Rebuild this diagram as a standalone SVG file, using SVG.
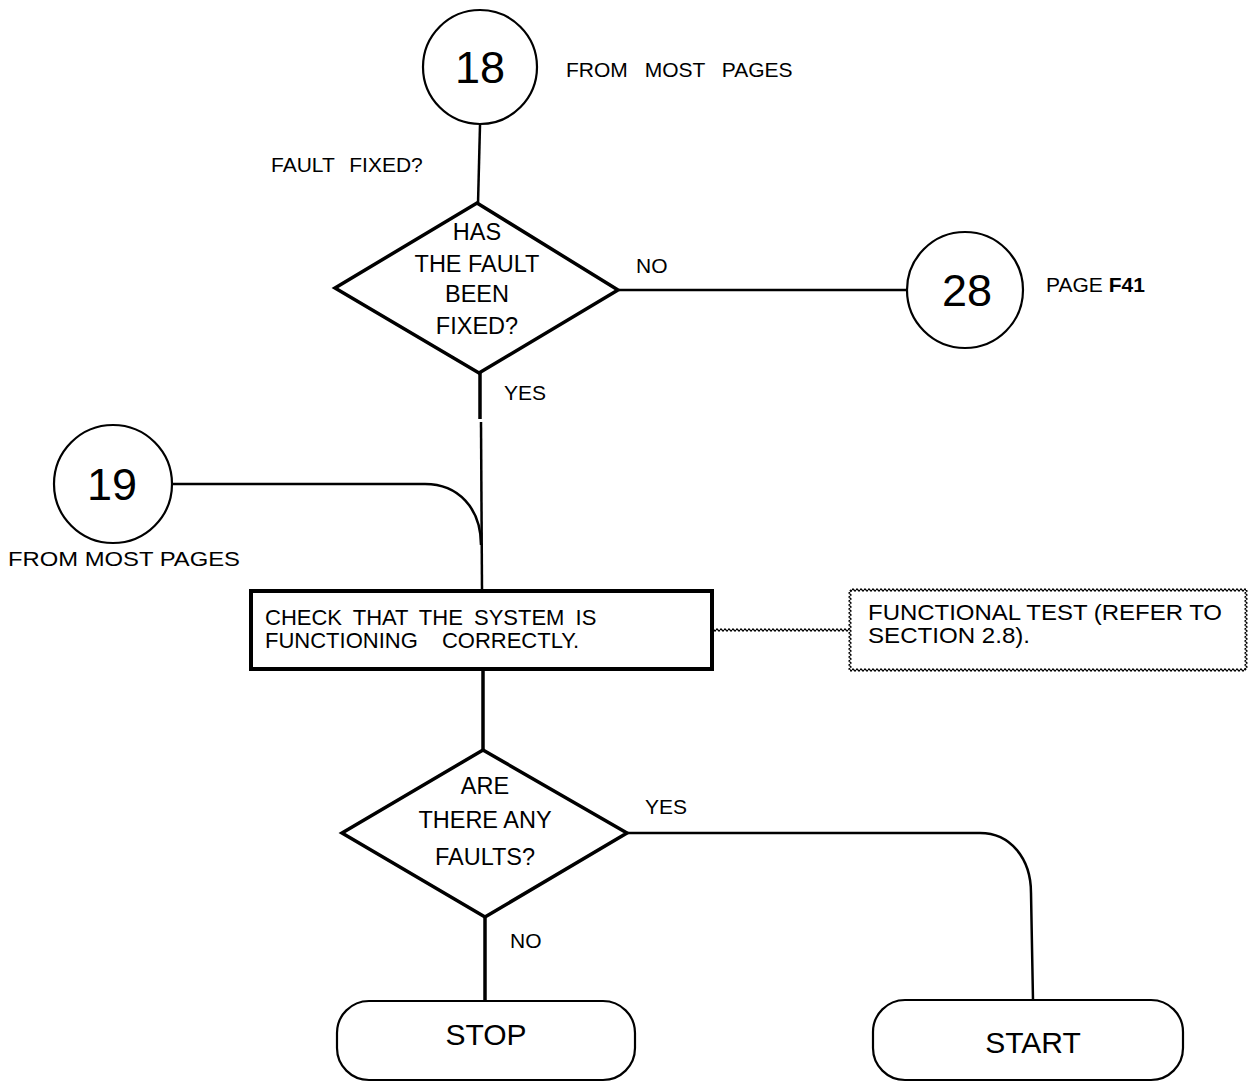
<svg xmlns="http://www.w3.org/2000/svg" width="1251" height="1085" viewBox="0 0 1251 1085">
  <style>
    text { font-family: "Liberation Sans", Arial, sans-serif; fill: #000; }
    .lbl { font-size: 21px; }
    .dtxt { font-size: 23.5px; text-anchor: middle; }
    .num { font-size: 45px; text-anchor: middle; }
    .term { font-size: 30px; text-anchor: middle; }
    .box { font-size: 22px; }
    .circ { fill: #fff; stroke: #000; stroke-width: 2.2; }
    .dia { fill: #fff; stroke: #000; stroke-width: 3.5; stroke-linejoin: miter; }
    .proc { fill: #fff; stroke: #000; stroke-width: 4; }
    .pill { fill: #fff; stroke: #000; stroke-width: 2.2; }
    .flow { fill: none; stroke: #000; stroke-width: 2.5; }
    .flowT { fill: none; stroke: #000; stroke-width: 3.5; }
  </style>
  <defs>
    <!-- wiggly tiles used for the annotation link and its border -->
    <pattern id="waveH" patternUnits="userSpaceOnUse" width="4" height="4">
      <path d="M0,2 L1,0.9 L2,2 L3,3.1 L4,2" fill="none" stroke="#000" stroke-width="1.2"/>
    </pattern>
    <pattern id="waveV" patternUnits="userSpaceOnUse" width="4" height="4">
      <path d="M2,0 L0.9,1 L2,2 L3.1,3 L2,4" fill="none" stroke="#000" stroke-width="1.2"/>
    </pattern>
  </defs>

  <rect width="1251" height="1085" fill="#fff"/>

  <!-- connectors -->
  <g id="connectors">
    <line class="flow" x1="480" y1="125" x2="478" y2="204"/>
    <line class="flow" x1="619" y1="290" x2="908" y2="290"/>
    <line class="flowT" x1="480" y1="373" x2="480" y2="419"/>
    <line class="flow" x1="481" y1="422" x2="482" y2="590"/>
    <path class="flow" d="M171,484 H425 C458,484 481,508 481,545"/>
    <line class="flowT" x1="483" y1="670" x2="483" y2="750"/>
    <path class="flow" d="M627,833 H980 C1010,833 1031,858 1031,893 L1033,1000"/>
    <line class="flowT" x1="485" y1="917" x2="485" y2="1000"/>
    <!-- wiggly link to the annotation -->
    <rect x="713" y="628" width="136" height="4" fill="url(#waveH)"/>
  </g>

  <g id="node-18">
    <circle class="circ" cx="480" cy="67" r="57"/>
    <text class="num" x="480" y="83">18</text>
    <text class="lbl" x="566" y="77" word-spacing="11">FROM MOST PAGES</text>
  </g>

  <g id="label-fault-fixed">
    <text class="lbl" x="271" y="172" word-spacing="9">FAULT FIXED?</text>
  </g>

  <g id="decision-fixed">
    <polygon class="dia" points="477,203 618,290 479,373 335,288"/>
    <text class="dtxt" x="477" y="240">HAS</text>
    <text class="dtxt" x="477" y="272">THE FAULT</text>
    <text class="dtxt" x="477" y="302">BEEN</text>
    <text class="dtxt" x="477" y="334">FIXED?</text>
  </g>

  <g id="label-no-1"><text class="lbl" x="636" y="273" font-size="22">NO</text></g>
  <g id="label-yes-1"><text class="lbl" x="504" y="400">YES</text></g>

  <g id="node-28">
    <circle class="circ" cx="965" cy="290" r="58"/>
    <text class="num" x="967" y="306">28</text>
    <text class="lbl" x="1046" y="292" font-size="20">PAGE <tspan font-weight="bold">F41</tspan></text>
  </g>

  <g id="node-19">
    <circle class="circ" cx="113" cy="484" r="59"/>
    <text class="num" x="112" y="500">19</text>
    <text class="lbl" x="8" y="566" font-size="22" textLength="232" lengthAdjust="spacingAndGlyphs">FROM MOST PAGES</text>
  </g>

  <g id="process-check">
    <rect class="proc" x="251" y="591" width="461" height="78"/>
    <text class="box" x="265" y="625" word-spacing="5">CHECK THAT THE SYSTEM IS</text>
    <text class="box" x="265" y="648" word-spacing="18">FUNCTIONING CORRECTLY.</text>
  </g>

  <g id="note-functional-test">
    <rect x="850" y="590" width="396" height="80" fill="#fff"/>
    <rect x="850" y="588" width="396" height="4" fill="url(#waveH)"/>
    <rect x="850" y="668" width="396" height="4" fill="url(#waveH)"/>
    <rect x="848" y="590" width="4" height="80" fill="url(#waveV)"/>
    <rect x="1244" y="590" width="4" height="80" fill="url(#waveV)"/>
    <text class="box" x="868" y="620" font-size="22" textLength="354" lengthAdjust="spacingAndGlyphs">FUNCTIONAL TEST (REFER TO</text>
    <text class="box" x="868" y="643" font-size="22" textLength="162" lengthAdjust="spacingAndGlyphs">SECTION 2.8).</text>
  </g>

  <g id="decision-faults">
    <polygon class="dia" points="483,750 627,833 485,917 342,833"/>
    <text class="dtxt" x="485" y="794">ARE</text>
    <text class="dtxt" x="485" y="828">THERE ANY</text>
    <text class="dtxt" x="485" y="865">FAULTS?</text>
  </g>

  <g id="label-yes-2"><text class="lbl" x="645" y="814">YES</text></g>
  <g id="label-no-2"><text class="lbl" x="510" y="948">NO</text></g>

  <g id="terminal-stop">
    <rect class="pill" x="337" y="1001" width="298" height="79" rx="32" ry="32"/>
    <text class="term" x="486" y="1045">STOP</text>
  </g>

  <g id="terminal-start">
    <rect class="pill" x="873" y="1000" width="310" height="80" rx="32" ry="32"/>
    <text class="term" x="1033" y="1053">START</text>
  </g>
</svg>
